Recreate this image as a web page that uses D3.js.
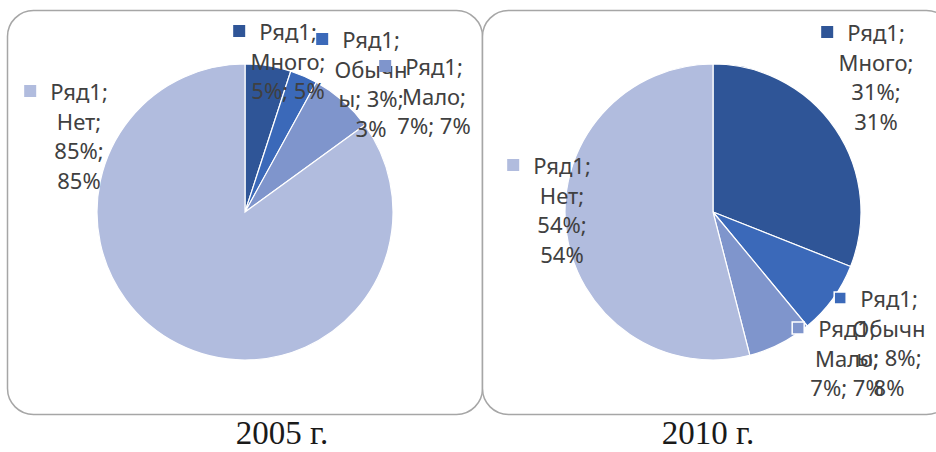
<!DOCTYPE html>
<html>
<head>
<meta charset="utf-8">
<script src="https://cdn.jsdelivr.net/npm/d3@7"></script>
<style>
body { margin: 0; background: #fff; }
svg { display: block; }
</style>
</head>
<body>
<svg></svg>
<script>
// data
var seriesName = "Ряд1"
var categories = ["Много", "Обычны", "Мало", "Нет"]
var values2005 = [5, 3, 7, 85]
var values2010 = [31, 8, 7, 54]
var years = ["2005 г.", "2010 г."]

var colors = ["#2f5597", "#3b69b9", "#7f95cc", "#b1bcde"]

var screen = {width: 936, height: 452}

// layout of the two panels and where Excel put each data label
var panels = [
    {x: 7.5, w: 475, cx: 245, cy: 212, capX: 282, values: values2005,
     labels: [{x: 288, y: 40}, {x: 371, y: 48}, {x: 434, y: 75}, {x: 79, y: 100}]},
    {x: 482.5, w: 470, cx: 713, cy: 212, capX: 708, values: values2010,
     labels: [{x: 876, y: 41}, {x: 889, y: 307}, {x: 847, y: 337}, {x: 562, y: 174}]}
]
var radius = 148
var lineStep = 29.5

var svg = d3.select("svg")
    .attr("width", screen.width)
    .attr("height", screen.height)

// greedy wrap, about 6 chars a line, breaking a word if it is too long
var wrap = function(text, maxChars)
{
    var words = text.split(" ")
    var lines = []
    var cur = ""
    words.forEach(function(w)
    {
        var test = cur == "" ? w : cur + " " + w
        if (test.length <= maxChars) { cur = test; return }
        if (cur != "") lines.push(cur)
        cur = w
        while (cur.length > maxChars) {
            lines.push(cur.slice(0, maxChars - 1))
            cur = cur.slice(maxChars - 1)
        }
    })
    if (cur != "") lines.push(cur)
    return lines
}

var pie = d3.pie().sort(null).value(function(d) { return d })
var arc = d3.arc().innerRadius(0).outerRadius(radius)

panels.forEach(function(p, pi)
{
    svg.append("rect")
        .attr("x", p.x)
        .attr("y", 10.5)
        .attr("width", p.w)
        .attr("height", 404)
        .attr("rx", 26)
        .attr("fill", "#fff")
        .attr("stroke", "#a6a6a6")
        .attr("stroke-width", 1.5)
})

panels.forEach(function(p, pi)
{
    var g = svg.append("g")
        .attr("transform", "translate(" + p.cx + "," + p.cy + ")")

    g.selectAll("path")
        .data(pie(p.values))
        .enter()
        .append("path")
        .attr("d", arc)
        .attr("fill", function(d, i) { return colors[i] })
        .attr("stroke", "#fff")
        .attr("stroke-width", 1.2)

    var lab = svg.append("g")
    p.values.forEach(function(v, i)
    {
        var pos = p.labels[i]
        var text = seriesName + "; " + categories[i] + "; " + v + "%; " + v + "%"
        var lines = wrap(text, 6)
        var t = lab.append("text")
            .attr("x", pos.x)
            .attr("y", pos.y)
            .attr("text-anchor", "middle")
            .attr("font-family", "Noto Sans, sans-serif")
            .attr("font-size", 22)
            .attr("fill", "#404040")
        t.selectAll("tspan")
            .data(lines)
            .enter()
            .append("tspan")
            .attr("x", pos.x)
            .attr("dy", function(d, k) { return k == 0 ? 0 : lineStep })
            .text(function(d) { return d })
        var w0 = t.select("tspan").node().getComputedTextLength()
        lab.append("rect")
            .attr("x", pos.x - w0 / 2 - 26)
            .attr("y", pos.y - 15)
            .attr("width", 12)
            .attr("height", 12)
            .attr("fill", colors[i])
            .attr("stroke", pi == 1 && i > 0 && i < 3 ? "#fff" : "none")
            .attr("stroke-width", 1.5)
    })

    svg.append("text")
        .attr("x", p.capX)
        .attr("y", 444)
        .attr("text-anchor", "middle")
        .attr("font-family", "Liberation Serif, Times New Roman, serif")
        .attr("font-size", 33)
        .attr("fill", "#1a1a1a")
        .text(years[pi])
})
</script>
</body>
</html>
